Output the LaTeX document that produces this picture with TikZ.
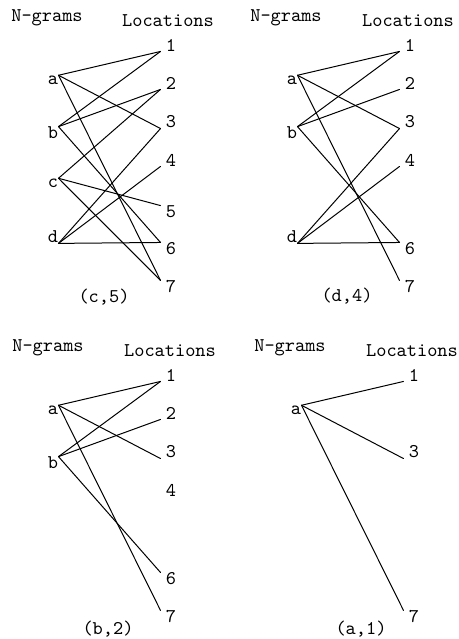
\documentclass[tikz,border=0pt]{standalone}
\tikzset{
	gram/.style={inner sep=0pt},
	loc/.style={inner xsep=2.5pt, inner ysep=0pt},
	edge/.style={line width=0.5pt}
}
\begin{document}
\begin{tikzpicture}[x=0.5pt, y=-0.5pt, font=\ttfamily\fontsize{9.7}{11}\selectfont, line join=round, line cap=round]
	\useasboundingbox (0,0) rectangle (459,639);
	% (c,5)
	\begin{scope}[name prefix=p1-]
		\node (ng) at (47,18) {N-grams};
		\node (lc) at (168,21) {Locations};
		\foreach \g/\y/\an in {a/80/north east, b/133/north east, c/183/north east, d/237/south east} {
			\node[gram] (\g) at (53,\y) {\g};
			\coordinate (\g o) at (\g.\an);
		}
		\foreach \n/\y/\an in {1/45/south west, 2/83/south west, 3/122/south west, 4/160/south west, 5/212/north west, 6/249/north west, 7/287/north west} {
			\node[loc] (l\n) at (171,\y) {\n};
			\coordinate (l\n i) at (l\n.\an);
		}
		\foreach \s/\t in {a/1, a/3, a/7, b/1, b/2, b/6, c/2, c/5, c/7, d/3, d/4, d/6}
			\draw[edge] (\s o) -- (l\t i);
		\node (cap) at (104,297) {(c,5)};
	\end{scope}
	% (d,4)
	\begin{scope}[shift={(239,0)}, name prefix=p2-]
		\node (ng) at (47,18) {N-grams};
		\node (lc) at (169,21) {Locations};
		\foreach \g/\y/\an in {a/80/north east, b/133/north east, d/237/south east} {
			\node[gram] (\g) at (53,\y) {\g};
			\coordinate (\g o) at (\g.\an);
		}
		\foreach \n/\y/\an in {1/45/south west, 2/83/south west, 3/122/south west, 4/160/south west, 6/249/north west, 7/287/north west} {
			\node[loc] (l\n) at (171,\y) {\n};
			\coordinate (l\n i) at (l\n.\an);
		}
		\foreach \s/\t in {a/1, a/3, a/7, b/1, b/2, b/6, d/3, d/4, d/6}
			\draw[edge] (\s o) -- (l\t i);
		\node (cap) at (108,296) {(d,4)};
	\end{scope}
	% (b,2)
	\begin{scope}[shift={(0,330)}, name prefix=p3-]
		\node (ng) at (48,18) {N-grams};
		\node (lc) at (170,21) {Locations};
		\foreach \g/\y/\an in {a/80/north east, b/133/north east} {
			\node[gram] (\g) at (53,\y) {\g};
			\coordinate (\g o) at (\g.\an);
		}
		\foreach \n/\y/\an in {1/45/south west, 2/83/south west, 3/122/south west, 4/160/south west, 6/249/north west, 7/287/north west} {
			\node[loc] (l\n) at (171,\y) {\n};
			\coordinate (l\n i) at (l\n.\an);
		}
		\foreach \s/\t in {a/1, a/3, a/7, b/1, b/2, b/6}
			\draw[edge] (\s o) -- (l\t i);
		\node (cap) at (108,299) {(b,2)};
	\end{scope}
	% (a,1)
	\begin{scope}[shift={(243,330)}, name prefix=p4-]
		\node (ng) at (47,18) {N-grams};
		\node (lc) at (169,21) {Locations};
		\node[gram] (a) at (53,80) {a};
		\coordinate (ao) at (a.north east);
		\foreach \n/\y/\an in {1/45/south west, 3/122/south west, 7/287/north west} {
			\node[loc] (l\n) at (171,\y) {\n};
			\coordinate (l\n i) at (l\n.\an);
		}
		\foreach \t in {1, 3, 7}
			\draw[edge] (ao) -- (l\t i);
		\node (cap) at (118,299) {(a,1)};
	\end{scope}
\end{tikzpicture}
\end{document}
